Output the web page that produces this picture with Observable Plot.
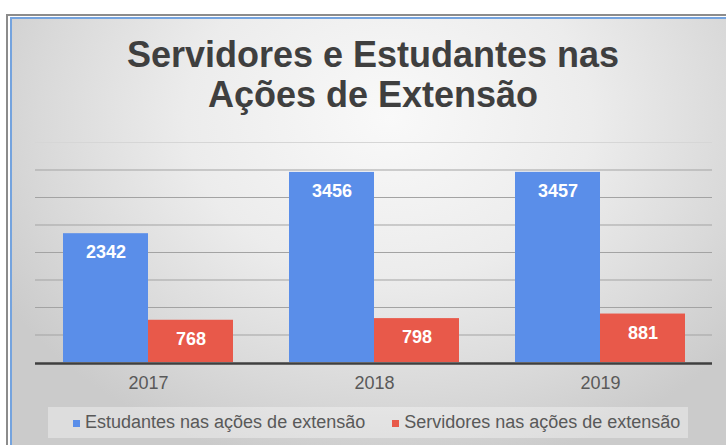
<!DOCTYPE html>
<html>
<head>
<meta charset="utf-8">
<script src="https://cdn.jsdelivr.net/npm/d3@7"></script>
<script src="https://cdn.jsdelivr.net/npm/@observablehq/plot@0.6"></script>
<style>
  html, body { margin: 0; padding: 0; background: #fff; }
  #wrap { position: relative; width: 726px; height: 445px; overflow: hidden; background: #fff;
          font-family: "Liberation Sans", Arial, sans-serif; }
  #outer { position: absolute; left: 6px; top: 14px; width: 740px; height: 460px;
           border: 2px solid #8c8c8c; box-sizing: border-box; }
  #panel { position: absolute; left: 10px; top: 17px; width: 730px; height: 450px;
           border: 2px solid #74a3de; box-sizing: border-box;
           background: radial-gradient(ellipse 62% 80% at 52% 22%, #f9f9f9 0%, #ececec 45%, #d9d9d9 78%, #cbcbcb 100%); }
  #title { position: absolute; left: 20px; width: 706px; top: 35px; text-align: center;
           font-size: 36px; font-weight: bold; line-height: 40px; color: #3f3f3f; }
  .chart { position: absolute; left: 0; top: 120px; }
  #legend { position: absolute; left: 48px; top: 407px; width: 640px; height: 31px;
            background: rgba(255,255,255,0.35); display: flex; align-items: center;
            padding-left: 25px; box-sizing: border-box; font-size: 18px; color: #595959; white-space: nowrap; }
  .sw { display: inline-block; width: 7px; height: 7px; margin-right: 5px; position: relative; top: 1px; }
  .item { display: flex; align-items: center; }
</style>
</head>
<body>
<div id="wrap">
  <div id="outer"></div>
  <div id="panel"></div>
  <div id="title">Servidores e Estudantes nas<br>Ações de Extensão</div>
  <div id="back" class="chart"></div>
  <div id="front" class="chart"></div>
  <div id="legend"></div>
</div>
<script>
const years = ["2017", "2018", "2019"];
const seriesNames = ["Estudantes nas ações de extensão", "Servidores nas ações de extensão"];
const estudantes = [2342, 3456, 3457];
const servidores = [768, 798, 881];
const seriesColors = ["#5a8ee9", "#e8594a"];
const gridValues = [500, 1000, 1500, 2000, 2500, 3000, 3500];
const topGrid = [4000];

const data = years.flatMap((yr, i) => [
  { year: yr, series: seriesNames[0], value: estudantes[i] },
  { year: yr, series: seriesNames[1], value: servidores[i] }
]);

const common = {
  width: 726,
  height: 280,
  marginLeft: 35,
  marginRight: 14,
  marginTop: 22,
  marginBottom: 38,
  style: { background: "transparent", overflow: "visible", fontFamily: "'Liberation Sans', Arial, sans-serif" },
  y: { domain: [0, 4000], axis: null }
};

// Background layer: gridlines and baseline spanning the full frame
const back = Plot.plot({
  ...common,
  marks: [
    Plot.ruleY(topGrid, { stroke: "#d6d6d6", strokeWidth: 1 }),
    Plot.ruleY(gridValues, { stroke: "#a3a3a3", strokeWidth: 1 }),
    Plot.ruleY([0], { stroke: "#3f3f3f", strokeWidth: 2.5, dy: 1 })
  ]
});
document.getElementById("back").appendChild(back);

// Foreground layer: grouped bars, value labels and year axis
const front = Plot.plot({
  ...common,
  fx: { domain: years, paddingInner: 0.25, paddingOuter: 0.12, label: null, axis: null },
  x: { domain: seriesNames, padding: 0, axis: null },
  color: { domain: seriesNames, range: seriesColors },
  marks: [
    Plot.barY(data, { fx: "year", x: "series", y: "value", fill: "series" }),
    Plot.text(data, { fx: "year", x: "series", y: "value", text: d => String(d.value),
      fill: "white", fontSize: 18, fontWeight: "bold", dy: 19 }),
    Plot.axisFx({ anchor: "bottom", tickSize: 0, tickPadding: 14, fontSize: 18, fill: "#595959", label: null })
  ]
});
document.getElementById("front").appendChild(front);

const legend = document.getElementById("legend");
seriesNames.forEach((name, i) => {
  const item = document.createElement("span");
  item.className = "item";
  if (i > 0) item.style.marginLeft = "27px";
  const sw = document.createElement("span");
  sw.className = "sw";
  sw.style.background = seriesColors[i];
  const label = document.createElement("span");
  label.textContent = name;
  item.appendChild(sw);
  item.appendChild(label);
  legend.appendChild(item);
});
</script>
</body>
</html>
